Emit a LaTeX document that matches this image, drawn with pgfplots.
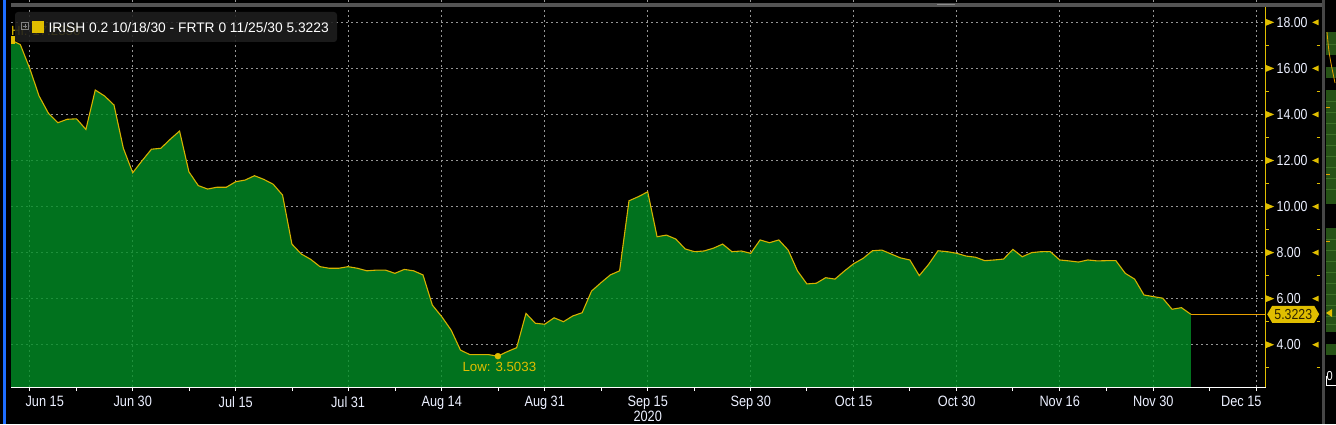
\documentclass[border=0pt]{standalone}
\usepackage{fontspec}
\setmainfont{Liberation Sans}
\newfontfamily\cond[FakeStretch=0.85]{Liberation Sans}
\usepackage{pgfplots}
\usepackage{pgfplotstable}
\pgfplotsset{compat=1.18}
\definecolor{bgreen}{RGB}{2,143,38}
\definecolor{bline}{RGB}{214,178,0}
\definecolor{byellow}{RGB}{224,190,0}
\definecolor{gridgray}{RGB}{150,150,150}
\definecolor{lbl}{RGB}{236,240,255}
\definecolor{borange}{RGB}{232,160,0}
\definecolor{tagtext}{RGB}{45,35,0}
\definecolor{legbg}{RGB}{30,30,30}
\definecolor{panelgreen}{RGB}{38,82,22}
\definecolor{panelline}{RGB}{62,112,40}
\definecolor{bblue}{RGB}{30,110,255}

\pgfplotstableread{
x y
-2 17.2356
-1 17.03
0 16.00
1 14.80
2 14.05
3 13.64
4 13.79
5 13.81
6 13.35
7 15.06
8 14.80
9 14.41
10 12.53
11 11.47
12 11.99
13 12.49
14 12.53
15 12.92
16 13.28
17 11.51
18 10.91
19 10.76
20 10.84
21 10.84
22 11.08
23 11.15
24 11.34
25 11.18
26 10.97
27 10.50
28 8.37
29 7.94
30 7.71
31 7.39
32 7.32
33 7.32
34 7.39
35 7.32
36 7.21
37 7.24
38 7.24
39 7.10
40 7.27
41 7.21
42 7.03
43 5.72
44 5.22
45 4.64
46 3.77
47 3.57
48 3.57
49 3.57
50 3.5033
51 3.70
52 3.87
53 5.36
54 4.93
55 4.89
56 5.17
57 5.00
58 5.25
59 5.39
60 6.33
61 6.69
62 7.03
63 7.21
64 10.25
65 10.43
66 10.64
67 8.69
68 8.76
69 8.59
70 8.16
71 8.04
72 8.07
73 8.19
74 8.37
75 8.04
76 8.07
77 7.97
78 8.55
79 8.43
80 8.55
81 8.11
82 7.20
83 6.64
84 6.67
85 6.91
86 6.85
87 7.20
88 7.52
89 7.75
90 8.08
91 8.11
92 7.94
93 7.77
94 7.68
95 7.00
96 7.49
97 8.08
98 8.04
99 7.97
100 7.85
101 7.80
102 7.65
103 7.68
104 7.72
105 8.14
106 7.82
107 8.00
108 8.04
109 8.04
110 7.68
111 7.64
112 7.59
113 7.68
114 7.64
115 7.65
116 7.65
117 7.10
118 6.85
119 6.16
120 6.09
121 6.02
122 5.54
123 5.61
124 5.3223
}\spread

\begin{document}
\begin{tikzpicture}[x=1pt,y=1pt]
\fill[black] (0,0) rectangle (1336,424);
\useasboundingbox (0,0) rectangle (1336,424);
\begin{axis}[
  at={(11pt,37pt)}, anchor=south west,
  scale only axis, width=1254.7pt, height=387pt,
  xmin=-2, xmax=132, ymin=2.164, ymax=18.97,
  axis line style={draw=none},
  clip mode=individual,
  xtick={0,11,22,34,44,55,66,77,88,99,110,120,131},
  xticklabels={\hspace*{30pt}Jun 15,Jun 30,Jul 15,Jul 31,Aug 14,Aug 31,{Sep 15\\2020},Sep 30,Oct 15,Oct 30,Nov 16,Nov 30,Dec 15\hspace*{30pt}},
  minor xtick={5,17,28,39,50,61,71,83,94,105,115,126},
  ytick={4,6,8,10,12,14,16,18}, yticklabels={},
  xtick pos=bottom, ytick pos=right,
  tick align=outside,
  major tick length=4pt, minor tick length=4pt,
  tick style={white, line width=0.8pt},
  xmajorgrids, ymajorgrids,
  major grid style={gridgray, dash pattern=on 2.2pt off 2.8pt, line width=0.8pt},
  xticklabel style={anchor=north, inner sep=0pt, yshift=-5pt, font=\cond\fontsize{15}{13.5}\selectfont, text=lbl, align=center},
]
\addplot[draw=none, fill=bgreen, fill opacity=0.8] table[x=x,y=y] {\spread} \closedcycle;
\addplot[bline, line width=1.1pt] table[x=x,y=y] {\spread};
\addplot[borange, line width=1pt] coordinates {(124,5.3223) (132,5.3223)};
\addplot[only marks, mark=*, mark size=3pt, byellow] coordinates {(50,3.5033)};
\addplot[only marks, mark=square*, mark size=3.5pt, byellow, clip marker paths=true] coordinates {(-2,17.2356)};

\node[anchor=base west, inner sep=0pt, xshift=-35.6pt, yshift=-15.7pt, text=byellow, font=\fontsize{13.3}{14}\selectfont] at (axis cs:50,3.5033) {Low: 3.5033};
\node[anchor=base west, inner sep=0pt, yshift=4.9pt, text=byellow, font=\fontsize{13.3}{14}\selectfont] at (axis cs:-2,17.2356) {Hi: 17.2356};

\draw[white, line width=1pt] (rel axis cs:0,0) -- (rel axis cs:1,0);
\draw[byellow, line width=1pt] (rel axis cs:1,0) -- (axis cs:132,18.66);

\pgfplotsinvokeforeach{4.00,6.00,8.00,10.00,12.00,14.00,16.00,18.00}{
  \fill[byellow] (axis cs:132,#1) ++(0pt,-3.5pt) -- ++(8.5pt,3.5pt) -- ++(-8.5pt,3.5pt) -- cycle;
  \node[anchor=west, inner sep=0pt, xshift=10.8pt, text=lbl, font=\cond\fontsize{14.5}{14}\selectfont] at (axis cs:132,#1) {#1};
  \fill[byellow] (axis cs:132,#1) ++(53pt,-3pt) -- ++(-6.5pt,3pt) -- ++(6.5pt,3pt) -- cycle;
}
\pgfplotsinvokeforeach{3,5,7,9,11,13,15,17}{
  \draw[byellow, line width=0.9pt] (axis cs:132,#1) -- ++(3pt,0pt);
  \draw[byellow, line width=0.9pt] (axis cs:132,#1) ++(51pt,0pt) -- ++(3pt,0pt);
}
\fill[byellow] (axis cs:132,5.3223) ++(1.5pt,0pt) -- ++(5pt,8.5pt) -- ++(42pt,0pt) -- ++(5pt,-8.5pt) -- ++(-5pt,-8.5pt) -- ++(-42pt,0pt) -- cycle;
\node[anchor=center, inner sep=0pt, xshift=27.6pt, text=tagtext, font=\cond\fontsize{14.5}{14}\selectfont] at (axis cs:132,5.3223) {5.3223};
\end{axis}

% legend
\fill[legbg, fill opacity=0.88, rounded corners=3pt] (15,412) rectangle (337,382);
\draw[gray, line width=0.6pt] (21.7,401.3) rectangle (28.3,394.7);
\draw[gray, line width=0.6pt] (25,400) -- (25,396) (23,398) -- (27,398);
\fill[byellow] (32.3,403.3) rectangle (44.3,391.3);
\node[anchor=base west, inner sep=0pt, text=white, font=\fontsize{13.8}{14}\selectfont] at (48.3,391.7) {IRISH 0.2 10/18/30 - FRTR 0 11/25/30 5.3223};

% frame decorations
\fill[black!67] (11,421) rectangle (1322,417);
\fill[black!45] (937,420.2) rectangle (955,418.6);
\fill[black!72] (1321.5,0) rectangle (1325,424);
\fill[bblue] (3,0) rectangle (5.5,424);

% right side panel
\fill[panelgreen] (1326,392) rectangle (1336,369);
\fill[panelgreen] (1326,357) rectangle (1336,346);
\fill[panelgreen] (1326,334) rectangle (1336,220);
\fill[panelgreen] (1326,196) rectangle (1336,92);
\fill[panelgreen] (1326,80) rectangle (1336,69);
\foreach \yy in {380,323,312,301,290,279,268,257,246,235,185,174,163,152,141,130,119,108,100} {
  \draw[panelline, line width=0.8pt] (1326,\yy) -- (1336,\yy);
}
\draw[borange, line width=0.8pt] (1327,392) .. controls (1329,370) .. (1335,341);
\foreach \yy in {317,250,183} { \draw[borange, line width=0.8pt] (1326,\yy) -- (1330,\yy); }
\fill[byellow] (1326,111) -- (1332,115) -- (1332,107) -- cycle;
\node[anchor=base west, inner sep=0pt, text=white, font=\cond\fontsize{13}{14}\selectfont] at (1326.5,44) {0};
\draw[white, line width=0.8pt] (1326,48) -- (1326,39) -- (1336,39);
\end{tikzpicture}
\end{document}
